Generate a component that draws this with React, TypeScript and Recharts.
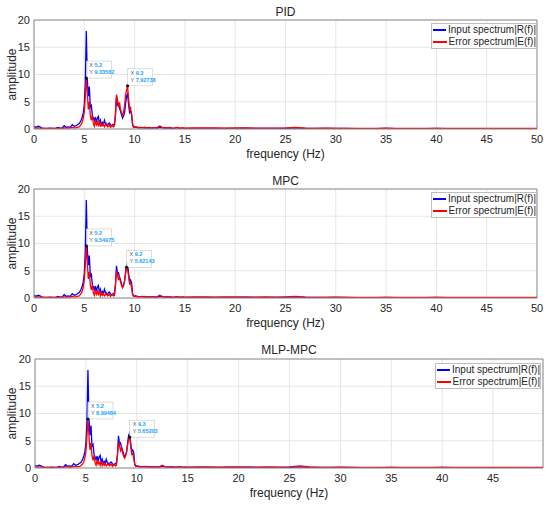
import React from 'react';
import { LineChart, Line, XAxis, YAxis, CartesianGrid, ReferenceLine, ReferenceDot, Label } from 'recharts';

// frequency samples (Hz): coarse below the peaks, 0.1 Hz through the peaks, coarse above
const freqLow = [0, 0.2, 0.4, 0.6, 0.8, 1.0, 1.2, 1.4, 1.6, 1.8, 2.0, 2.2, 2.4, 2.6, 2.8, 3.0, 3.2, 3.4, 3.6, 3.8, 4.0, 4.2, 4.4];
const freqPeak = [
  4.5, 4.6, 4.7, 4.8, 4.9, 5.0, 5.1, 5.2, 5.3, 5.4,
  5.5, 5.6, 5.7, 5.8, 5.9, 6.0, 6.1, 6.2, 6.3, 6.4,
  6.5, 6.6, 6.7, 6.8, 6.9, 7.0, 7.1, 7.2, 7.3, 7.4,
  7.5, 7.6, 7.7, 7.8, 7.9, 8.0, 8.1, 8.2, 8.3, 8.4,
  8.5, 8.6, 8.7, 8.8, 8.9, 9.0, 9.1, 9.2, 9.3, 9.4,
  9.5, 9.6, 9.7, 9.8, 9.9, 10.0, 10.1, 10.2, 10.3, 10.4,
];
const freqMid = [10.5, 10.75, 11, 11.25, 11.5, 11.75, 12, 12.25, 12.5, 12.75, 13, 13.25, 13.5, 13.75, 14, 14.25, 14.5, 14.75, 15];
const freqHigh = [
  16, 17, 18, 19, 20, 21, 22, 23, 24, 25,
  26, 27, 28, 29, 30, 31, 32, 33, 34, 35,
  36, 37, 38, 39, 40, 41, 42, 43, 44, 45,
  46, 47, 48, 49, 50,
];
const freq = [...freqLow, ...freqPeak, ...freqMid, ...freqHigh];

// input spectrum |R(f)| (same in all three panels)
const inputSpectrum = [
  0.5, 0.3, 0.5, 0.4, 0.15, 0.1, 0.1, 0.1, 0.15, 0.1, 0.1, 0.15, 0.3, 0.15, 0.2, 0.6, 0.3, 0.4, 0.3, 0.8, 0.5, 0.6, 0.9,
  1.0, 1.3, 1.7, 2.2, 3.0, 4.5, 8.5, 18.0, 9.0, 6.0,
  7.8, 4.0, 4.3, 2.5, 2.0, 1.5, 2.2, 1.2, 2.0, 2.3,
  1.0, 1.6, 0.8, 1.2, 0.8, 1.6, 1.0, 0.7, 0.6, 1.0,
  1.1, 0.8, 0.6, 0.6, 0.8, 0.9, 2.5, 5.9, 4.4, 4.6,
  3.8, 3.3, 2.6, 2.0, 2.4, 3.0, 4.6, 6.0, 6.4, 4.6,
  3.0, 3.3, 2.8, 0.7, 0.4, 0.3, 0.4, 0.25, 0.3, 0.2,
  0.2, 0.3, 0.15, 0.25, 0.15, 0.2, 0.2, 0.15, 0.3, 0.2, 0.15, 0.2, 0.15, 0.1, 0.15, 0.25, 0.1, 0.15, 0.1,
  0.1, 0.12, 0.1, 0.1, 0.12, 0.15, 0.1, 0.1, 0.1, 0.1,
  0.2, 0.1, 0.1, 0.1, 0.1, 0.1, 0.08, 0.08, 0.08, 0.1,
  0.08, 0.08, 0.08, 0.08, 0.1, 0.08, 0.08, 0.08, 0.08, 0.08,
  0.08, 0.08, 0.08, 0.08, 0.08,
];

// error spectrum |E(f)| per controller
const errorPID = [
  0.2, 0.15, 0.2, 0.15, 0.1, 0.1, 0.1, 0.1, 0.1, 0.1, 0.1, 0.1, 0.15, 0.1, 0.1, 0.2, 0.15, 0.2, 0.15, 0.3, 0.2, 0.25, 0.35,
  0.4, 0.6, 0.9, 1.3, 2.0, 3.2, 6.0, 9.33582, 6.5, 3.6,
  5.0, 2.4, 1.6, 2.6, 1.0, 0.5, 1.6, 0.8, 1.3, 0.5,
  1.5, 0.4, 1.0, 0.6, 0.9, 0.4, 0.7, 1.0, 0.4, 0.5,
  0.8, 0.3, 0.5, 0.8, 0.4, 0.6, 3.0, 6.3, 5.4, 4.0,
  4.9, 3.6, 3.0, 2.5, 3.1, 4.2, 6.2, 7.1, 7.92738, 5.6,
  3.6, 3.9, 2.6, 1.0, 0.3, 0.35, 0.3, 0.4, 0.25, 0.3,
  0.3, 0.2, 0.35, 0.2, 0.3, 0.15, 0.25, 0.3, 0.55, 0.3, 0.25, 0.2, 0.3, 0.15, 0.2, 0.3, 0.15, 0.2, 0.15,
  0.2, 0.18, 0.2, 0.15, 0.2, 0.18, 0.15, 0.15, 0.15, 0.2,
  0.3, 0.15, 0.12, 0.15, 0.12, 0.12, 0.12, 0.12, 0.12, 0.15,
  0.12, 0.12, 0.12, 0.1, 0.12, 0.1, 0.12, 0.1, 0.1, 0.1,
  0.1, 0.1, 0.1, 0.1, 0.1,
];
const errorMPC = [
  0.2, 0.15, 0.2, 0.15, 0.1, 0.1, 0.1, 0.1, 0.1, 0.1, 0.1, 0.1, 0.15, 0.1, 0.1, 0.2, 0.15, 0.2, 0.15, 0.3, 0.2, 0.25, 0.35,
  0.4, 0.6, 0.9, 1.3, 2.0, 3.3, 6.2, 9.54975, 6.3, 3.5,
  4.8, 2.3, 1.5, 2.4, 0.9, 0.5, 1.5, 0.7, 1.2, 0.5,
  1.4, 0.4, 0.9, 0.5, 0.8, 0.4, 0.6, 0.9, 0.4, 0.5,
  0.7, 0.3, 0.5, 0.7, 0.4, 0.5, 2.4, 4.9, 4.2, 3.3,
  3.9, 2.9, 2.3, 1.9, 2.3, 3.1, 4.5, 5.62143, 5.3, 4.0,
  2.6, 2.8, 1.9, 0.7, 0.3, 0.3, 0.25, 0.35, 0.2, 0.25,
  0.25, 0.2, 0.3, 0.2, 0.25, 0.15, 0.2, 0.25, 0.5, 0.3, 0.2, 0.2, 0.25, 0.15, 0.2, 0.25, 0.15, 0.2, 0.15,
  0.18, 0.2, 0.15, 0.18, 0.2, 0.15, 0.15, 0.18, 0.15, 0.2,
  0.28, 0.15, 0.12, 0.12, 0.15, 0.12, 0.1, 0.12, 0.12, 0.12,
  0.1, 0.12, 0.1, 0.12, 0.1, 0.1, 0.12, 0.1, 0.1, 0.1,
  0.1, 0.1, 0.1, 0.1, 0.1,
];
const errorMLPMPC = [
  0.2, 0.2, 0.15, 0.15, 0.1, 0.1, 0.1, 0.1, 0.1, 0.1, 0.1, 0.1, 0.15, 0.1, 0.1, 0.25, 0.15, 0.2, 0.15, 0.3, 0.2, 0.25, 0.3,
  0.4, 0.6, 0.8, 1.2, 1.9, 3.0, 5.8, 8.99484, 6.0, 3.3,
  4.6, 2.2, 1.4, 2.3, 0.9, 0.5, 1.4, 0.7, 1.1, 0.5,
  1.3, 0.4, 0.9, 0.5, 0.8, 0.4, 0.6, 0.9, 0.4, 0.5,
  0.7, 0.3, 0.5, 0.7, 0.4, 0.5, 2.3, 4.8, 4.1, 3.2,
  3.8, 2.8, 2.2, 1.8, 2.2, 3.0, 4.3, 5.3, 5.65203, 4.0,
  2.5, 2.7, 1.8, 0.6, 0.3, 0.3, 0.25, 0.3, 0.2, 0.25,
  0.25, 0.2, 0.3, 0.2, 0.25, 0.15, 0.2, 0.25, 0.5, 0.25, 0.2, 0.2, 0.25, 0.15, 0.2, 0.25, 0.15, 0.15, 0.15,
  0.18, 0.2, 0.15, 0.18, 0.2, 0.15, 0.15, 0.18, 0.15, 0.2,
  0.4, 0.18, 0.12, 0.12, 0.15, 0.12, 0.1, 0.12, 0.12, 0.12,
  0.1, 0.12, 0.1, 0.12, 0.1, 0.1, 0.12, 0.1, 0.1, 0.1,
  0.1, 0.1, 0.1, 0.1, 0.1,
];

// data tips shown on the error curve
const tipsPID = [{ x: 5.2, y: 9.33582 }, { x: 9.3, y: 7.92738 }];
const tipsMPC = [{ x: 5.2, y: 9.54975 }, { x: 9.2, y: 5.62143 }];
const tipsMLPMPC = [{ x: 5.2, y: 8.99484 }, { x: 9.3, y: 5.65203 }];

const yTicks = [0, 5, 10, 15, 20];
const xTicksFull = [0, 5, 10, 15, 20, 25, 30, 35, 40, 45, 50];
const xTicksShort = [0, 5, 10, 15, 20, 25, 30, 35, 40, 45];

const FONT = '"Liberation Sans", Arial, Helvetica, sans-serif';
const TEXT = '#262626';
const BOX = '#8c8c8c';

const DataTip = ({ cx, cy, x, y }: any) => {
  const w = String(y).length > 6 ? 25 : 24;
  return (
    <g>
      <rect x={cx} y={cy - 17} width={w} height={17} fill="#fff" fillOpacity={0.9} stroke="#c8c8c8" strokeWidth={0.6} />
      <text x={cx + 3} y={cy - 11} fontSize={5.5} fontFamily={FONT}>
        <tspan fill="#555">X </tspan>
        <tspan fill="#1aa3ff" fontWeight="bold">{x}</tspan>
      </text>
      <text x={cx + 3} y={cy - 4} fontSize={5.5} fontFamily={FONT}>
        <tspan fill="#555">Y </tspan>
        <tspan fill="#1aa3ff" fontWeight="bold">{y}</tspan>
      </text>
      <circle cx={cx} cy={cy} r={1.6} fill="#111" />
    </g>
  );
};

const Legend = ({ left, top }: { left: number; top: number }) => (
  <div
    style={{
      position: 'absolute',
      left,
      top,
      width: 104,
      height: 24,
      border: '1px solid #bdbdbd',
      background: '#fff',
      fontFamily: FONT,
      fontSize: 10,
      color: TEXT,
      lineHeight: '12px',
    }}
  >
    {[
      { name: 'Input spectrum|R(f)|', color: '#0000ff' },
      { name: 'Error spectrum|E(f)|', color: '#ff0000' },
    ].map((item) => (
      <div key={item.name} style={{ display: 'flex', alignItems: 'center', height: 12, whiteSpace: 'nowrap' }}>
        <span style={{ display: 'inline-block', width: 14, height: 1.5, background: item.color, margin: '0 2px 0 1px' }} />
        {item.name}
      </div>
    ))}
  </div>
);

type PanelProps = {
  top: number;
  title: string;
  error: number[];
  tips: { x: number; y: number }[];
  xMax: number;
  xTicks: number[];
  plotLeft: number;
  plotRight: number;
  legendLeft: number;
  legendTop: number;
  titleTop: number;
};

const Panel = ({ top, title, error, tips, xMax, xTicks, plotLeft, plotRight, legendLeft, legendTop, titleTop }: PanelProps) => {
  const data = freq.map((f, i) => ({ f, input: inputSpectrum[i], error: error[i] }));
  const width = 550;
  const height = 168;
  return (
    <div style={{ position: 'absolute', left: 0, top, width, height }}>
      <LineChart
        width={width}
        height={height}
        data={data}
        margin={{ top: 20, right: width - plotRight, bottom: 6, left: 0 }}
      >
        <CartesianGrid stroke="#e6e6e6" />
        <XAxis
          type="number"
          dataKey="f"
          domain={[0, xMax]}
          ticks={xTicks}
          interval={0}
          allowDataOverflow
          height={33}
          tickLine={false}
          tickMargin={0}
          axisLine={{ stroke: BOX }}
          tick={{ fontSize: 11, fill: TEXT, fontFamily: FONT }}
        >
          <Label value="frequency (Hz)" position="insideBottom" offset={4} fontSize={12} fill={TEXT} fontFamily={FONT} />
        </XAxis>
        <YAxis
          type="number"
          domain={[0, 20]}
          ticks={yTicks}
          interval={0}
          allowDataOverflow
          width={plotLeft}
          tickLine={false}
          tickSize={4}
          tickMargin={0}
          axisLine={{ stroke: BOX }}
          tick={{ fontSize: 11, fill: TEXT, fontFamily: FONT }}
        >
          <Label
            value="amplitude"
            angle={-90}
            position="insideLeft"
            offset={12}
            fontSize={12}
            fill={TEXT}
            fontFamily={FONT}
            style={{ textAnchor: 'middle' }}
          />
        </YAxis>
        <ReferenceLine y={20} stroke={BOX} />
        <ReferenceLine x={xMax} stroke={BOX} />
        <Line type="linear" dataKey="input" stroke="#0000ff" strokeWidth={1.3} dot={false} isAnimationActive={false} />
        <Line type="linear" dataKey="error" stroke="#ff0000" strokeWidth={1.3} dot={false} isAnimationActive={false} />
        {tips.map((t) => (
          <ReferenceDot
            key={t.x}
            x={t.x}
            y={t.y}
            r={1.6}
            ifOverflow="visible"
            shape={(p: any) => <DataTip cx={p.cx} cy={p.cy} x={t.x} y={t.y} />}
          />
        ))}
      </LineChart>
      <div
        style={{
          position: 'absolute',
          left: plotLeft,
          width: plotRight - plotLeft,
          top: titleTop,
          textAlign: 'center',
          fontFamily: FONT,
          fontSize: 12,
          lineHeight: '12px',
          color: TEXT,
        }}
      >
        {title}
      </div>
      <Legend left={legendLeft} top={legendTop} />
    </div>
  );
};

export default function App() {
  return (
    <div style={{ position: 'absolute', left: 0, top: 0, width: 550, height: 507, background: '#fff' }}>
      <Panel top={0} title="PID" error={errorPID} tips={tipsPID} xMax={50} xTicks={xTicksFull}
        plotLeft={34} plotRight={537} legendLeft={431} legendTop={23} titleTop={6} />
      <Panel top={169} title="MPC" error={errorMPC} tips={tipsMPC} xMax={50} xTicks={xTicksFull}
        plotLeft={34} plotRight={537} legendLeft={431} legendTop={23} titleTop={6} />
      <Panel top={339} title="MLP-MPC" error={errorMLPMPC} tips={tipsMLPMPC} xMax={49.9} xTicks={xTicksShort}
        plotLeft={35} plotRight={543} legendLeft={435} legendTop={24} titleTop={5} />
    </div>
  );
}
